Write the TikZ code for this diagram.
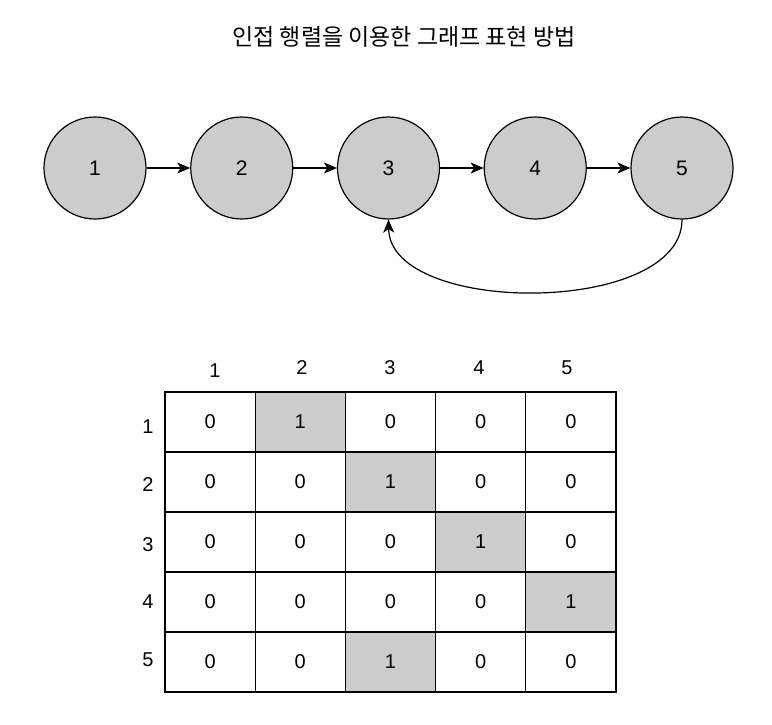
\documentclass[tikz,border=0pt]{standalone}
\usepackage{fontspec}
\setmainfont{Liberation Sans}
\newfontfamily\kor{Noto Sans CJK KR}
\usetikzlibrary{arrows.meta}

\definecolor{shade}{HTML}{CCCCCC}
\tikzstyle{vertex}=[circle, draw=black, fill=shade, line width=1.2pt, minimum size=102pt, inner sep=0pt, font=\fontsize{21}{25}\selectfont]
\tikzstyle{edge}=[draw=black, line width=1.2pt, -{Stealth[length=13pt,width=11pt,inset=3.5pt]}]
\tikzstyle{cell}=[rectangle, draw=black, line width=1.2pt, inner sep=0pt, font=\fontsize{20}{24}\selectfont]
\tikzstyle{label}=[inner sep=0pt, font=\fontsize{20}{24}\selectfont]
\newcommand{\entry}[4]{
	\node[cell, fill=#4, minimum width=\cellW pt, minimum height=\cellH pt]
	(c-#1-#2) at ({\tabX + ((#2) - 0.5) * \cellW}, {\tabY + ((#1) - 0.5) * \cellH}) {#3};
}

\begin{document}
\begin{tikzpicture}[x=1pt,y=-1pt]
\useasboundingbox (0,0) rectangle (772,724);
\pgfmathsetmacro{\gap}{146.75}
\pgfmathsetmacro{\tabX}{165}
\pgfmathsetmacro{\tabY}{392}
\pgfmathsetmacro{\cellW}{90.2}
\pgfmathsetmacro{\cellH}{60}

\node[inner sep=0pt, font=\kor\fontsize{23}{27}\selectfont] (title) at (404,37) {인접 행렬을 이용한 그래프 표현 방법};

% graph
\foreach\i in {1,...,5} {
    \node[vertex] (v\i) at ({95 + (\i - 1) * \gap}, 168) {\i};
}
\foreach\i/\j in {1/2,2/3,3/4,4/5} {
    \draw[edge] (v\i) -- (v\j);
}
\draw[edge] (v5.south) .. controls (682,316) and (390,316) .. (v3.south);

% adjacency matrix
\foreach\r in {1,...,5} {
    \foreach\c in {1,...,5} {
        \entry{\r}{\c}{0}{white}
    }
}
\entry{1}{2}{1}{shade}
\entry{2}{3}{1}{shade}
\entry{3}{4}{1}{shade}
\entry{4}{5}{1}{shade}
\entry{5}{3}{1}{shade}

\foreach\c/\x/\y in {1/215/371, 2/302/368, 3/390/368, 4/479/368, 5/567/368} {
    \node[label] (col\c) at (\x,\y) {\c};
}
\foreach\r/\y in {1/427, 2/485, 3/545, 4/602, 5/660} {
    \node[label] (row\r) at (148,\y) {\r};
}
\end{tikzpicture}
\end{document}
